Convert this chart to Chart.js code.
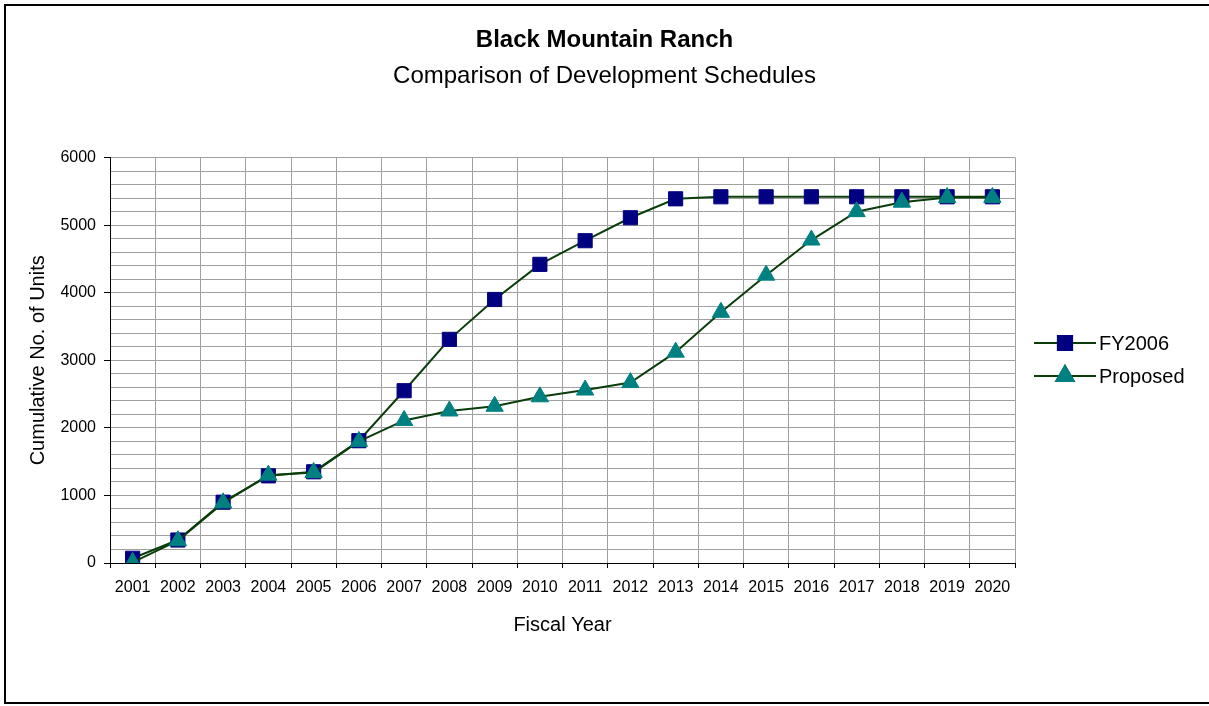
<!DOCTYPE html>
<html>
<head>
<meta charset="utf-8">
<title>Black Mountain Ranch</title>
<script src="https://cdn.jsdelivr.net/npm/chart.js@4.4.1/dist/chart.umd.min.js"></script>
<style>
  html, body { margin: 0; padding: 0; background: #fff; }
  #wrap { width: 1209px; height: 706px; }
</style>
</head>
<body>
<div id="wrap"><canvas id="chart" width="1209" height="706"></canvas></div>
<script>
// data
const years = ['2001', '2002', '2003', '2004', '2005', '2006', '2007', '2008', '2009', '2010',
               '2011', '2012', '2013', '2014', '2015', '2016', '2017', '2018', '2019', '2020'];
const fy2006 = [70, 340, 900, 1290, 1350, 1810, 2550, 3310, 3900, 4420,
                4770, 5110, 5390, 5420, 5420, 5420, 5420, 5420, 5420, 5420];
const proposed = [10, 330, 890, 1300, 1340, 1800, 2110, 2250, 2320, 2460,
                  2560, 2670, 3120, 3710, 4260, 4780, 5200, 5340, 5410, 5410];
const yTicks = [0, 1000, 2000, 3000, 4000, 5000, 6000];

const FONT = "'Liberation Sans', Arial, sans-serif";
const LINE = '#0b3d0b';

// outer frame + legend with line-through markers (Excel style)
const framePlugin = {
  id: 'frame',
  afterDraw(chart) {
    const ctx = chart.ctx;
    ctx.save();
    ctx.strokeStyle = '#000';
    ctx.lineWidth = 2;
    ctx.beginPath();
    ctx.moveTo(1215, 5);
    ctx.lineTo(5, 5);
    ctx.lineTo(5, 703);
    ctx.lineTo(1215, 703);
    ctx.stroke();

    // legend
    const rows = [343, 376];
    chart.data.datasets.forEach((ds, i) => {
      const y = rows[i];
      ctx.strokeStyle = ds.borderColor;
      ctx.lineWidth = 2;
      ctx.beginPath();
      ctx.moveTo(1034, y);
      ctx.lineTo(1096, y);
      ctx.stroke();
      Chart.helpers.drawPoint(ctx, {
        pointStyle: ds.pointStyle,
        radius: ds.pointRadius,
        borderWidth: 1
      }, 1065, y);
      ctx.fillStyle = ds.pointBackgroundColor;
      ctx.strokeStyle = ds.pointBorderColor;
      ctx.fill();
      ctx.stroke();
      ctx.fillStyle = '#000';
      ctx.font = '20px ' + FONT;
      ctx.textBaseline = 'middle';
      ctx.textAlign = 'left';
      ctx.fillText(ds.label, 1099, y + 1);
    });
    ctx.restore();
  }
};

new Chart(document.getElementById('chart'), {
  type: 'line',
  data: {
    labels: years,
    datasets: [{
      label: 'FY2006',
      data: fy2006,
      borderColor: LINE,
      borderWidth: 2,
      pointStyle: 'rect',
      pointRadius: 10,
      pointBackgroundColor: '#000080',
      pointBorderColor: '#000080',
      pointBorderWidth: 1,
      tension: 0,
      order: 1
    }, {
      label: 'Proposed',
      data: proposed,
      borderColor: LINE,
      borderWidth: 2,
      pointStyle: 'triangle',
      pointRadius: 10,
      pointBackgroundColor: '#008080',
      pointBorderColor: '#008080',
      pointBorderWidth: 1,
      tension: 0,
      order: 0
    }]
  },
  options: {
    responsive: false,
    animation: false,
    layout: { padding: { top: 26, left: 0, right: 0, bottom: 0 } },
    plugins: {
      legend: { display: false },
      tooltip: { enabled: false },
      title: {
        display: true,
        text: 'Black Mountain Ranch',
        color: '#000',
        font: { family: FONT, size: 24, weight: 'bold' },
        padding: { top: 0, bottom: 7 }
      },
      subtitle: {
        display: true,
        text: 'Comparison of Development Schedules',
        color: '#000',
        font: { family: FONT, size: 24 },
        padding: { top: 0, bottom: 67 }
      }
    },
    scales: {
      x: {
        offset: true,
        afterFit: (s) => { s.height = 706 - 563; },
        grid: {
          offset: true,
          color: '#a0a0a0',
          tickColor: '#000',
          tickLength: 5
        },
        border: { color: '#000', width: 1 },
        ticks: {
          color: '#000',
          font: { family: FONT, size: 16 },
          padding: 10,
          autoSkip: false,
          maxRotation: 0
        },
        title: {
          display: true,
          text: 'Fiscal Year',
          color: '#000',
          font: { family: FONT, size: 20 },
          padding: { top: 0, bottom: 69 }
        }
      },
      y: {
        min: 0,
        max: 6000,
        afterFit: (s) => { s.width = 110; },
        grid: {
          color: '#a0a0a0',
          tickColor: (c) => (c.tick && yTicks.includes(c.tick.value)) ? '#000' : 'rgba(0,0,0,0)',
          tickLength: 6
        },
        border: { color: '#000', width: 1 },
        ticks: {
          stepSize: 200,
          autoSkip: false,
          color: '#000',
          font: { family: FONT, size: 16 },
          padding: 8,
          callback: (v) => yTicks.includes(v) ? String(v) : ''
        },
        title: {
          display: true,
          text: 'Cumulative No. of Units',
          color: '#000',
          font: { family: FONT, size: 20 },
          padding: { top: 26, bottom: 0 }
        }
      },
      // empty right-hand box that keeps room for the legend
      side: {
        position: 'right',
        min: 0,
        max: 6000,
        afterFit: (s) => { s.width = 1209 - 1015; },
        grid: { display: false },
        border: { display: false },
        ticks: { display: false }
      }
    }
  },
  plugins: [framePlugin]
});
</script>
</body>
</html>
